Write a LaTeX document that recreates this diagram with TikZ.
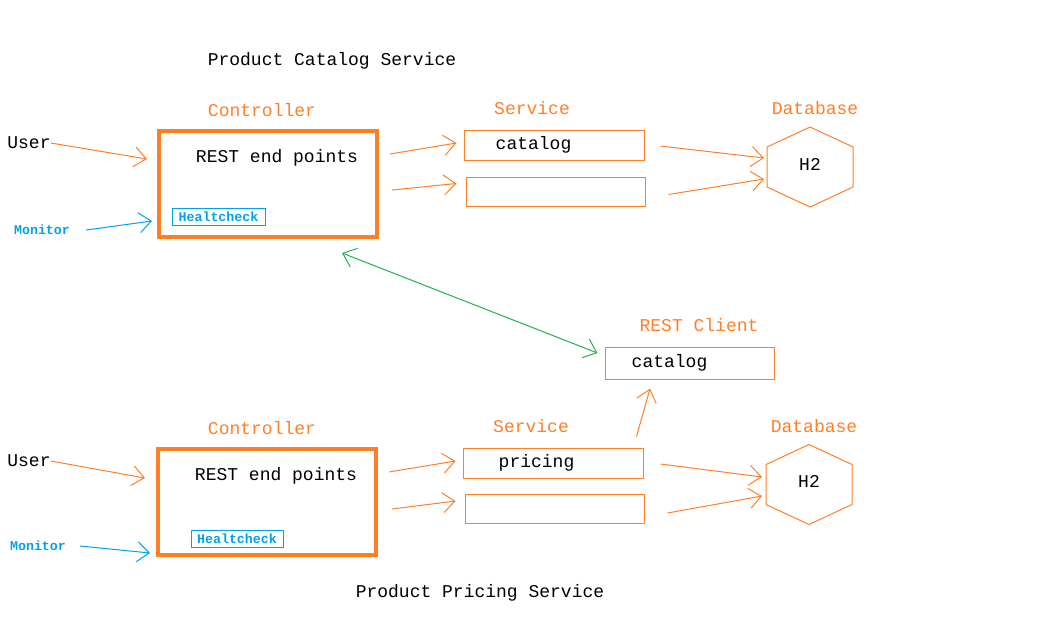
\documentclass[tikz,border=0pt]{standalone}
\usepackage{fontspec}
\setmainfont{Liberation Mono}
\usetikzlibrary{arrows.meta, positioning, calc}
\definecolor{paintorange}{RGB}{255,127,39}
\definecolor{paintblue}{RGB}{0,162,232}
\definecolor{paintgreen}{RGB}{34,177,76}
\tikzset{>={Straight Barb[length=12pt,width=20pt]}, % Open arrow heads like the sketch
txt/.style={ % Plain black text
inner sep=0pt, font=\fontsize{18}{20}\selectfont},
lbl/.style={ % Orange column titles
txt, text=paintorange},
mon/.style={ % Blue small bold text
inner sep=0pt, text=paintblue, font=\bfseries\fontsize{13.3}{15}\selectfont},
ctrlbox/.style={ % Thick controller frame
draw=paintorange, line width=4pt, minimum width=218pt, minimum height=106pt},
svcbox/.style={ % Thin service boxes
draw=paintorange, line width=1pt, minimum width=180pt, minimum height=30pt},
hcbox/.style={ % Healtcheck box
draw=paintblue, line width=1pt, minimum width=93pt, minimum height=17pt, mon},
orarrow/.style={draw=paintorange, line width=1pt, ->},
bluarrow/.style={draw=paintblue, line width=1pt, ->},
dbline/.style={draw=paintorange, line width=1pt}}
\newcommand{\hexdb}[1]{% Stretched hexagon round a database node
\draw[dbline] ($(#1)+(0,-40)$) -- ++(43,20) -- ++(0,40) -- ++(-43,20) -- ++(-43,-20) -- ++(0,-40) -- cycle;}

\begin{document}
\begin{tikzpicture}[x=1pt, y=-1pt]
    \useasboundingbox (0,0) rectangle (1051,630);

    % Product Catalog Service
    \node[txt] (title1) at (332,61) {Product Catalog Service};
    \node[lbl] (ctrllbl1) at (262,110) {Controller};
    \node[lbl] (svclbl1) at (532,108) {Service};
    \node[lbl] (dblbl1) at (815,108) {Database};

    \node[ctrlbox] (ctrl1) at (268,184) {};
    \node[txt] (rest1) at (277,158) {REST end points};
    \node[hcbox] (hc1) at (218.5,216.5) {Healtcheck};
    \node[txt] (user1) at (29,143) {User};
    \node[mon] (mon1) at (42,230) {Monitor};

    \node[svcbox] (svc1) at (554,145) {};
    \node[txt, anchor=west] (cat1) at ([xshift=32pt]svc1.west) {catalog};
    \node[svcbox, minimum width=179pt, minimum height=29pt] (svc1b) at (555.5,191.5) {};

    \node[txt] (db1) at (810,164) {H2};
    \hexdb{810,167}

    \draw[orarrow] (user1.east) -- ($(ctrl1.west)+(-10,-25)$);
    \draw[bluarrow] ($(mon1.east)+(16,0)$) -- ($(ctrl1.south west)+(-5,-18)$);
    \draw[orarrow] ($(ctrl1.east)+(11,-30)$) -- ($(svc1.west)+(-7,-2)$);
    \draw[orarrow] ($(ctrl1.east)+(13,6)$) -- ($(svc1b.west)+(-9,-8)$);
    \draw[orarrow] ($(svc1.east)+(16,1)$) -- ($(db1)+(-46,-6)$);
    \draw[orarrow] ($(svc1b.east)+(23,3)$) -- ($(db1)+(-46,15)$);

    % REST Client
    \node[lbl] (clientlbl) at (699,325) {REST Client};
    \node[svcbox, minimum width=169pt, minimum height=32pt] (client) at (689.5,363) {};
    \node[txt, anchor=west] (cat3) at ([xshift=27pt]client.west) {catalog};

    % Product Pricing Service
    \node[lbl] (ctrllbl2) at (262,428) {Controller};
    \node[lbl] (svclbl2) at (531,426) {Service};
    \node[lbl] (dblbl2) at (814,426) {Database};

    \node[ctrlbox] (ctrl2) at (267,502) {};
    \node[txt] (rest2) at (276,476) {REST end points};
    \node[hcbox, minimum width=92pt] (hc2) at (237,538.5) {Healtcheck};
    \node[txt] (user2) at (29,461) {User};
    \node[mon] (mon2) at (38,546) {Monitor};

    \node[svcbox] (svc2) at (553,463) {};
    \node[txt, anchor=west] (price2) at ([xshift=36pt]svc2.west) {pricing};
    \node[svcbox, minimum width=179pt, minimum height=29pt] (svc2b) at (554.5,508.5) {};

    \node[txt] (db2) at (809,481) {H2};
    \hexdb{809,484.5}

    \draw[orarrow] (user2.east) -- ($(ctrl2.west)+(-11,-24)$);
    \draw[bluarrow] ($(mon2.east)+(14,0)$) -- ($(ctrl2.south west)+(-6,-4)$);
    \draw[orarrow] ($(ctrl2.east)+(11,-30)$) -- ($(svc2.west)+(-7,-2)$);
    \draw[orarrow] ($(ctrl2.east)+(14,7)$) -- ($(svc2b.west)+(-9,-7.5)$);
    \draw[orarrow] ($(svc2.east)+(17,1)$) -- ($(db2)+(-47,-4)$);
    \draw[orarrow] ($(svc2b.east)+(23,4.5)$) -- ($(db2)+(-47,15)$);

    \node[txt] (title2) at (480,593) {Product Pricing Service};

    % Client links
    \draw[orarrow] ($(svc2.north east)+(-7,-11)$) -- ($(client.south)+(-39.5,9)$);
    \draw[draw=paintgreen, line width=1pt, <->] ($(ctrl1.south east)+(-37,14)$) -- ($(client.west)+(-7,-10)$);

\end{tikzpicture}
\end{document}
